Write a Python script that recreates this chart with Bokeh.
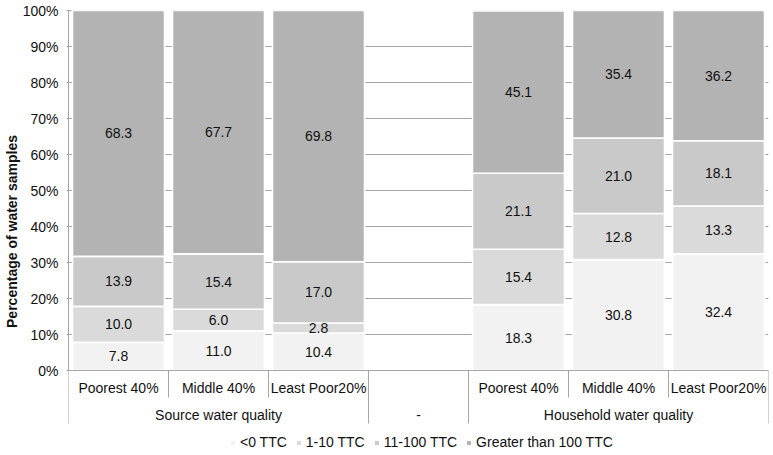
from bokeh.plotting import figure
from bokeh.models import Range1d, Span, ColumnDataSource, FixedTicker
from bokeh.core.properties import value
from bokeh.embed import file_html
from bokeh.resources import INLINE

# ---------------- data ----------------
groups = ["Source water quality", "-", "Household water quality"]
wealth = ["Poorest 40%", "Middle 40%", "Least Poor20%"]
series = ["<0 TTC", "1-10 TTC", "11-100 TTC", "Greater than 100 TTC"]
colors = ["#f2f2f2", "#dadada", "#c9c9c9", "#b3b3b3"]

source_lt0 = [7.8, 11.0, 10.4]
source_1_10 = [10.0, 6.0, 2.8]
source_11_100 = [13.9, 15.4, 17.0]
source_gt100 = [68.3, 67.7, 69.8]

house_lt0 = [18.3, 30.8, 32.4]
house_1_10 = [15.4, 12.8, 13.3]
house_11_100 = [21.1, 21.0, 18.1]
house_gt100 = [45.1, 35.4, 36.2]

y_ticks = [0, 10, 20, 30, 40, 50, 60, 70, 80, 90, 100]

# ---------------- layout constants ----------------
W, H = 770, 452
BL, BR, BT, BB = 68, 2, 10, 0
FRAME_H = H - BT - BB
PLOT_PX = 360.0            # pixels from 0% to 100%
UNIT = PLOT_PX / 100.0
Y0 = 100 - FRAME_H / UNIT
n_sub = len(wealth)
n_slots = n_sub * 2 + 1


def below(px):
    return -px / UNIT


FONT = "Liberation Sans"
FS = "14px"
GRAY = "#a6a6a6"
TXT = "#111111"

# slot indices: source group, blank slot, household group
src_slots = list(range(n_sub))
blank_slot = n_sub
hh_slots = [n_sub + 1 + i for i in range(n_sub)]

keys = ["s0", "s1", "s2", "s3"]
data = dict(
    x=[s + 0.5 for s in src_slots + hh_slots],
    s0=source_lt0 + house_lt0,
    s1=source_1_10 + house_1_10,
    s2=source_11_100 + house_11_100,
    s3=source_gt100 + house_gt100,
)
src = ColumnDataSource(data)

p = figure(width=W, height=H, output_backend="svg", toolbar_location=None,
           x_range=Range1d(0, n_slots), y_range=Range1d(Y0, 100),
           min_border_left=BL, min_border_right=BR, min_border_top=BT,
           min_border_bottom=BB, x_axis_location=None, title=None)
p.outline_line_color = None
p.background_fill_color = "white"

# grid
p.xgrid.visible = False
p.ygrid.ticker = FixedTicker(ticks=y_ticks)
p.ygrid.grid_line_color = GRAY
p.ygrid.grid_line_width = 1
p.ygrid.bounds = (0, 100)

# bars
p.vbar_stack(keys, x="x", width=0.92, source=src, color=colors,
             line_color="white", line_width=1.6, legend_label=series)

# x axis line at 0
p.add_layout(Span(location=0, dimension="width", line_color=GRAY, line_width=1))

# data labels
lx, ly, lt = [], [], []
for i, x in enumerate(data["x"]):
    base = 0.0
    for k in keys:
        v = data[k][i]
        lx.append(x)
        ly.append(base + v / 2)
        lt.append(f"{v:.1f}")
        base += v
p.text(x=lx, y=ly, text=lt, text_align="center", text_baseline="middle",
       text_font=value(FONT), text_font_size=FS, text_color=TXT)

# y axis
ya = p.yaxis[0]
ya.ticker = FixedTicker(ticks=y_ticks)
ya.major_label_overrides = {t: f"{t}%" for t in y_ticks}
ya.bounds = (0, 100)
ya.axis_line_color = GRAY
ya.major_tick_line_color = GRAY
ya.major_tick_in = 3
ya.major_tick_out = 2
ya.minor_tick_line_color = None
ya.major_label_standoff = 8
ya.major_label_text_font = FONT
ya.major_label_text_font_size = FS
ya.major_label_text_color = TXT
ya.axis_label = "Percentage of water samples"
ya.axis_label_text_font = FONT
ya.axis_label_text_font_size = FS
ya.axis_label_text_font_style = "bold"
ya.axis_label_text_color = TXT
ya.axis_label_standoff = 0

# category axis (two levels) drawn below zero
inner_len = below(27)
outer_len = below(53)
group_edges = [0, n_sub, n_sub + 1, n_slots]
sx0, sy0, sx1, sy1 = [], [], [], []
for e in range(n_slots + 1):
    sx0.append(e)
    sx1.append(e)
    sy0.append(0)
    sy1.append(outer_len if e in group_edges else inner_len)
p.segment(x0=sx0, y0=sy0, x1=sx1, y1=sy1, line_color=GRAY, line_width=1)

inner_x = [s + 0.5 for s in src_slots + hh_slots]
inner_t = wealth + wealth
p.text(x=inner_x, y=[below(17)] * len(inner_x), text=inner_t,
       text_align="center", text_baseline="middle",
       text_font=value(FONT), text_font_size=FS, text_color=TXT)

outer_x = [n_sub / 2, blank_slot + 0.5, hh_slots[0] + n_sub / 2]
p.text(x=outer_x, y=[below(44)] * 3, text=groups,
       text_align="center", text_baseline="middle",
       text_font=value(FONT), text_font_size=FS, text_color=TXT)

# legend
lg = p.legend[0]
lg.orientation = "horizontal"
lg.location = (161, 2)
lg.border_line_color = None
lg.background_fill_alpha = 0
lg.padding = 0
lg.margin = 0
lg.spacing = 8
lg.glyph_width = 7
lg.glyph_height = 7
lg.label_standoff = 4
lg.label_text_font = FONT
lg.label_text_font_size = FS
lg.label_text_color = TXT

open("out.html", "w").write(file_html(p, INLINE))
